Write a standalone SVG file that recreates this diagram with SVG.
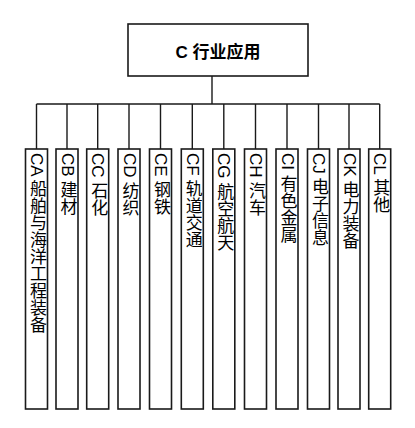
<svg xmlns="http://www.w3.org/2000/svg" width="415" height="428" viewBox="0 0 415 428">
<style>
.box{fill:#fff;stroke:#1a1a1a;stroke-width:1.6}
.ln{fill:none;stroke:#1a1a1a;stroke-width:1.4}
.t{font-family:"Liberation Sans","Noto Sans CJK SC",sans-serif;font-size:17px;fill:#000}
.v{writing-mode:tb;letter-spacing:0}
</style>
<rect width="415" height="428" fill="#fff"/>
<g id="connectors" class="ln">
<path d="M212 76V104M36.5 104H379.7"/>
<path d="M36.5 104V149M67 104V149M97.7 104V149M129 104V149M160.5 104V149M192.3 104V149M223.8 104V149M255.5 104V149M287 104V149M318.5 104V149M349 104V149M379.7 104V149"/>
</g>
<g id="root"><rect class="box" x="128" y="24" width="180" height="52"/><text class="t" x="218" y="58" text-anchor="middle" font-weight="bold">C 行业应用</text></g>
<g id="CA"><rect class="box" x="25.5" y="149" width="22" height="260"/><text class="t v" x="36.5" y="153">CA 船舶与海洋工程装备</text></g>
<g id="CB"><rect class="box" x="56" y="149" width="22" height="260"/><text class="t v" x="67" y="153">CB 建材</text></g>
<g id="CC"><rect class="box" x="86.7" y="149" width="22" height="260"/><text class="t v" x="97.7" y="153">CC 石化</text></g>
<g id="CD"><rect class="box" x="118" y="149" width="22" height="260"/><text class="t v" x="129" y="153">CD 纺织</text></g>
<g id="CE"><rect class="box" x="149.5" y="149" width="22" height="260"/><text class="t v" x="160.5" y="153">CE 钢铁</text></g>
<g id="CF"><rect class="box" x="181.3" y="149" width="22" height="260"/><text class="t v" x="192.3" y="153">CF 轨道交通</text></g>
<g id="CG"><rect class="box" x="212.8" y="149" width="22" height="260"/><text class="t v" x="223.8" y="153">CG 航空航天</text></g>
<g id="CH"><rect class="box" x="244.5" y="149" width="22" height="260"/><text class="t v" x="255.5" y="153">CH 汽车</text></g>
<g id="CI"><rect class="box" x="276" y="149" width="22" height="260"/><text class="t v" x="287" y="153">CI 有色金属</text></g>
<g id="CJ"><rect class="box" x="307.5" y="149" width="22" height="260"/><text class="t v" x="318.5" y="153">CJ 电子信息</text></g>
<g id="CK"><rect class="box" x="338" y="149" width="22" height="260"/><text class="t v" x="349" y="153">CK 电力装备</text></g>
<g id="CL"><rect class="box" x="368.7" y="149" width="22" height="260"/><text class="t v" x="379.7" y="153">CL 其他</text></g>
</svg>
